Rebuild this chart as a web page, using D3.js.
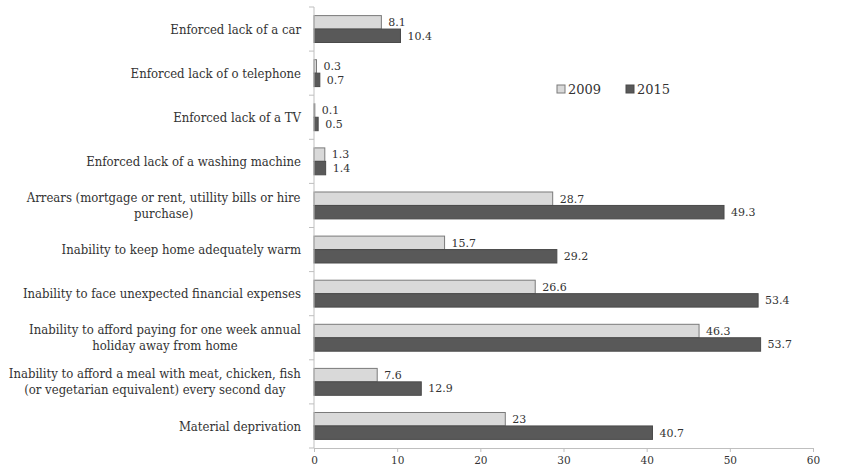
<!DOCTYPE html>
<html>
<head>
<meta charset="utf-8">
<script src="https://cdn.jsdelivr.net/npm/d3@7"></script>
<style>
  html, body { margin: 0; padding: 0; background: #fff; }
  svg { display: block; }
  text { font-family: "DejaVu Serif", "Liberation Serif", serif; fill: #333; }
  .cat { font-family: "DejaVu Serif Condensed", "DejaVu Serif", serif; font-stretch: condensed; }
</style>
</head>
<body>
<svg id="chart" width="841" height="468"></svg>
<script>
// Deprivation indicators, percentages
const categories = [
  ["Enforced lack of a car"],
  ["Enforced lack of o telephone"],
  ["Enforced lack of a TV"],
  ["Enforced lack of a washing machine"],
  ["Arrears (mortgage or rent, utillity bills or hire", "purchase)"],
  ["Inability to keep home adequately warm"],
  ["Inability to face unexpected financial expenses"],
  ["Inability to afford paying for one week annual", "holiday away from home"],
  ["Inability to afford a meal with meat, chicken, fish", "(or vegetarian equivalent) every second day"],
  ["Material deprivation"]
];
const seriesNames = ["2009", "2015"];
const values2009 = [8.1, 0.3, 0.1, 1.3, 28.7, 15.7, 26.6, 46.3, 7.6, 23];
const values2015 = [10.4, 0.7, 0.5, 1.4, 49.3, 29.2, 53.4, 53.7, 12.9, 40.7];
const xTicks = [0, 10, 20, 30, 40, 50, 60];

const colors = { "2009": "#d9d9d9", "2015": "#595959" };
const strokes = { "2009": "#7a7a7a", "2015": "#4a4a4a" };

const svg = d3.select("#chart");
const plotLeft = 314, plotRight = 813, plotTop = 7, plotBottom = 448;
const labelRight = 301;

const x = d3.scaleLinear().domain([0, 60]).range([plotLeft, plotRight]);
const y = d3.scaleBand().domain(d3.range(categories.length))
  .range([plotTop, plotBottom]).paddingInner(0.39).paddingOuter(0.195);
const sub = d3.scaleBand().domain(seriesNames).range([0, y.bandwidth()]);

const rows = categories.map((c, i) => ({ i, label: c, v: { "2009": values2009[i], "2015": values2015[i] } }));

// Bars with value labels
const g = svg.append("g");
rows.forEach(r => {
  seriesNames.forEach(s => {
    const yy = y(r.i) + sub(s);
    g.append("rect")
      .attr("x", x(0))
      .attr("y", yy)
      .attr("width", x(r.v[s]) - x(0))
      .attr("height", sub.bandwidth())
      .attr("fill", colors[s])
      .attr("stroke", strokes[s])
      .attr("stroke-width", 1);
    g.append("text")
      .attr("x", x(r.v[s]) + 7)
      .attr("y", yy + sub.bandwidth() / 2)
      .attr("dy", "0.35em")
      .attr("font-size", 11)
      .text(r.v[s]);
  });
});

// Category axis: line and ticks at band boundaries
const step = y.step();
const axisColor = "#bfbfbf";
svg.append("line")
  .attr("x1", plotLeft).attr("x2", plotLeft)
  .attr("y1", plotTop).attr("y2", plotBottom)
  .attr("stroke", axisColor);
d3.range(categories.length + 1).forEach(k => {
  const yy = plotTop + k * step;
  svg.append("line")
    .attr("x1", plotLeft - 5).attr("x2", plotLeft)
    .attr("y1", yy).attr("y2", yy)
    .attr("stroke", axisColor);
});

// Category labels (multi-line labels are centred on their widest line)
rows.forEach(r => {
  const cy = y(r.i) + y.bandwidth() / 2;
  const lh = 16;
  const n = r.label.length;
  const t = svg.append("text")
    .attr("class", "cat")
    .attr("text-anchor", n > 1 ? "middle" : "end")
    .attr("font-size", 13);
  r.label.forEach((line, k) => {
    t.append("tspan")
      .attr("x", labelRight)
      .attr("y", cy + (k - (n - 1) / 2) * lh)
      .attr("dy", "0.35em")
      .text(line);
  });
  if (n > 1) {
    const w = t.node().getBBox().width;
    t.selectAll("tspan").attr("x", labelRight - w / 2);
  }
});

// Value axis
const xAxis = svg.append("g")
  .attr("transform", `translate(0,${plotBottom})`)
  .call(d3.axisBottom(x).tickValues(xTicks).tickSize(4).tickPadding(5).tickFormat(d3.format("d")));
xAxis.select(".domain").attr("stroke", axisColor);
xAxis.selectAll(".tick line").attr("stroke", axisColor);
xAxis.selectAll(".tick text")
  .attr("font-family", "\"DejaVu Serif\", serif")
  .attr("font-size", 10.5)
  .attr("fill", "#333");

// Legend
const legend = svg.append("g").attr("transform", "translate(557,89)");
seriesNames.forEach((s, k) => {
  const lg = legend.append("g").attr("transform", `translate(${k * 69},0)`);
  lg.append("rect").attr("x", 0).attr("y", -4).attr("width", 8).attr("height", 8)
    .attr("fill", colors[s]).attr("stroke", strokes[s]);
  lg.append("text").attr("x", 11).attr("y", 0).attr("dy", "0.35em")
    .attr("font-size", 13).text(s);
});
</script>
</body>
</html>
